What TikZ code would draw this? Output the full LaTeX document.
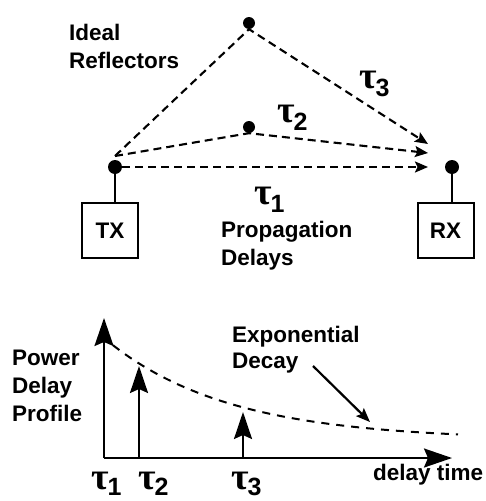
\documentclass[tikz,border=0pt]{standalone}
\usepackage{fontspec}
\setmainfont{Liberation Sans}
\newfontfamily\taufont{Liberation Serif}
\usetikzlibrary{arrows.meta}

% tau with a numeric subscript, as used for the path delays
\newcommand{\tausub}[2][-8pt]{{\fontsize{38}{38}\selectfont\taufont\bfseries τ}\kern-1pt\raisebox{#1}{\fontsize{25}{25}\selectfont\bfseries #2}}

\tikzset{
  lbl/.style={inner sep=0pt, font=\fontsize{22.5}{28}\selectfont\bfseries, align=left},
  taulbl/.style={inner sep=0pt, anchor=base west},
  enddot/.style={circle, fill=black, inner sep=0pt, minimum size=14pt},
  refdot/.style={circle, fill=black, inner sep=0pt, minimum size=12pt},
  unit/.style={draw, line width=2pt, minimum width=56pt, minimum height=55pt, inner sep=0pt,
               font=\fontsize{22.5}{28}\selectfont\bfseries},
  stem/.style={line width=2pt},
  ray/.style={line width=2.1pt, dash pattern=on 8pt off 5pt,
              -{Stealth[length=13pt, width=11pt, inset=2.5pt]}},
  axis/.style={line width=2.2pt, -{Stealth[length=28pt, width=19pt, inset=4pt]}},
  spike/.style={line width=2.2pt, -{Stealth[length=27pt, width=18pt, inset=4pt]}},
  decay/.style={line width=2pt, dash pattern=on 8pt off 7pt},
  pointer/.style={line width=2.2pt, -{Stealth[length=14pt, width=11pt, inset=2.5pt]}}
}

\begin{document}
\begin{tikzpicture}[x=1pt, y=-1pt]
\useasboundingbox (0,0) rectangle (486,501);

% ---------- multipath channel ----------
\node[enddot] (txd) at (115,167) {};
\node[enddot] (rxd) at (452,167) {};
\node[refdot] (r2) at (249,23) {};
\node[refdot] (r1) at (249,127) {};

\node[unit] (tx) at (110,230.5) {TX};
\node[unit] (rx) at (445.5,230.5) {RX};
\draw[stem] (txd) -- (txd |- tx.north);
\draw[stem] (rxd) -- (rxd |- rx.north);

\coordinate (src) at (115,156);
\coordinate (t1) at (428,167);
\coordinate (t2) at (428,153);
\coordinate (t3) at (428,144);

\draw[ray] (txd) -- (t1);
\draw[ray] (src) -- (r1.south) -- (t2);
\draw[ray] (src) -- (r2.south) -- (t3);

\node[taulbl] (tau1) at (254,204) {\tausub{1}};
\node[taulbl] (tau2) at (277,122) {\tausub{2}};
\node[taulbl] (tau3) at (359,88) {\tausub{3}};

\node[lbl, anchor=north west] (refl) at (69,23.8) {Ideal\\Reflectors};
\node[lbl, anchor=north west] (prop) at (221,220.5) {Propagation\\Delays};

% ---------- power delay profile ----------
\coordinate (o) at (104,458);
\coordinate (ytop) at (104,318);
\coordinate (xend) at (452,458);
\coordinate (s2b) at (139,458);
\coordinate (s2t) at (139,366);
\coordinate (s3b) at (243,458);
\coordinate (s3t) at (243,412);

\draw[decay] plot[domain=113:458, samples=70, smooth] (\x, {440 - 102*exp(-(\x-104)/122)});

\draw[axis] (o) -- (ytop);
\draw[axis] (o) -- (xend);
\draw[spike] (s2b) -- (s2t);
\draw[spike] (s3b) -- (s3t);

\node[lbl, anchor=north west] (pdp) at (12,349.8) {Power\\Delay\\Profile};
\node[lbl, anchor=north west, font=\fontsize{22.5}{26.8}\selectfont\bfseries] (expd) at (232,325.5) {Exponential\\Decay};
\node[lbl, anchor=base west] (dt) at (373,480) {delay time};

\coordinate (pa) at (313,366);
\coordinate (pb) at (370,422);
\draw[pointer] (pa) -- (pb);

\node[taulbl] (b1) at (91,489) {\tausub[-6pt]{1}};
\node[taulbl] (b2) at (138,489) {\tausub[-6pt]{2}};
\node[taulbl] (b3) at (231,489) {\tausub[-6pt]{3}};
\end{tikzpicture}
\end{document}
